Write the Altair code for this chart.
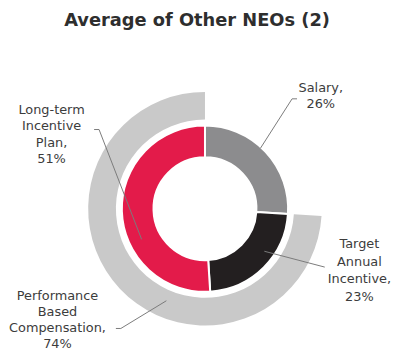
import altair as alt
import pandas as pd

# ---- data ----
inner_categories = ["Salary", "Target Annual Incentive", "Long-term Incentive Plan"]
inner_values = [26, 23, 51]
inner_colors = ["#8c8c8e", "#231f20", "#e31b4a"]

outer_categories = ["Fixed", "Performance Based Compensation"]
outer_values = [26, 74]
outer_visible = [0, 1]

title_text = "Average of Other NEOs (2)"

label_lines = [
    ["Long-term", "Incentive", "Plan,", "51%"],
    ["Salary,", "26%"],
    ["Target", "Annual", "Incentive,", "23%"],
    ["Performance", "Based", "Compensation,", "74%"],
]

# ---- layout (pixel positions in view coordinates) ----
CX, CY = 199, 201
label_x = [44, 316, 355, 50]
label_y0 = [105, 83, 241, 293]
line_h = [16.7, 16, 17.7, 16.3]
leaders = [
    (87, 121, 92, 121), (92, 121, 135, 232),
    (287, 90, 292, 90), (287, 90, 255, 140),
    (259, 244, 320, 260),
    (160, 294, 114, 322), (114, 322, 109, 322),
]

font = "DejaVu Sans"

inner_df = pd.DataFrame({
    "cat": inner_categories,
    "value": inner_values,
    "idx": list(range(len(inner_categories))),
})
outer_df = pd.DataFrame({
    "cat": outer_categories,
    "value": outer_values,
    "idx": list(range(len(outer_categories))),
    "vis": outer_visible,
})

rows = []
for lines, x, y0, lh in zip(label_lines, label_x, label_y0, line_h):
    for i, t in enumerate(lines):
        rows.append({"t": t, "x": x, "y": y0 + i * lh})
labels_df = pd.DataFrame(rows)
lead_df = pd.DataFrame(leaders, columns=["x", "y", "x2", "y2"])

inner = alt.Chart(inner_df).mark_arc(
    innerRadius=52, outerRadius=84, stroke="white", strokeWidth=2
).encode(
    theta=alt.Theta("value:Q", stack=True),
    order=alt.Order("idx:Q"),
    color=alt.Color("cat:N", scale=alt.Scale(domain=inner_categories, range=inner_colors), legend=None),
    x=alt.value(CX),
    y=alt.value(CY),
)

outer = alt.Chart(outer_df).mark_arc(
    innerRadius=90, outerRadius=118, color="#c9c9c9"
).encode(
    theta=alt.Theta("value:Q", stack=True),
    order=alt.Order("idx:Q"),
    opacity=alt.Opacity("vis:Q", scale=alt.Scale(domain=[0, 1], range=[0, 1]), legend=None),
    x=alt.value(CX),
    y=alt.value(CY),
)

rules = alt.Chart(lead_df).mark_rule(color="#7a7a7a", strokeWidth=1).encode(
    x=alt.X("x:Q", scale=None), y=alt.Y("y:Q", scale=None),
    x2="x2:Q", y2="y2:Q",
)

texts = alt.Chart(labels_df).mark_text(
    font=font, fontSize=13, color="#3c3c3c", align="center", baseline="alphabetic"
).encode(
    x=alt.X("x:Q", scale=None), y=alt.Y("y:Q", scale=None), text="t:N",
)

title = alt.Chart(pd.DataFrame({"t": [title_text]})).mark_text(
    font=font, fontSize=18, fontWeight="bold", color="#2e2e2e", align="center", baseline="alphabetic"
).encode(
    x=alt.value(191), y=alt.value(16), text="t:N",
)

chart = alt.layer(outer, inner, rules, texts, title).properties(
    width=392, height=344, autosize="none", padding=0
).configure_view(stroke=None)

chart.save("out.html", embed_options={"renderer": "svg", "actions": False})
